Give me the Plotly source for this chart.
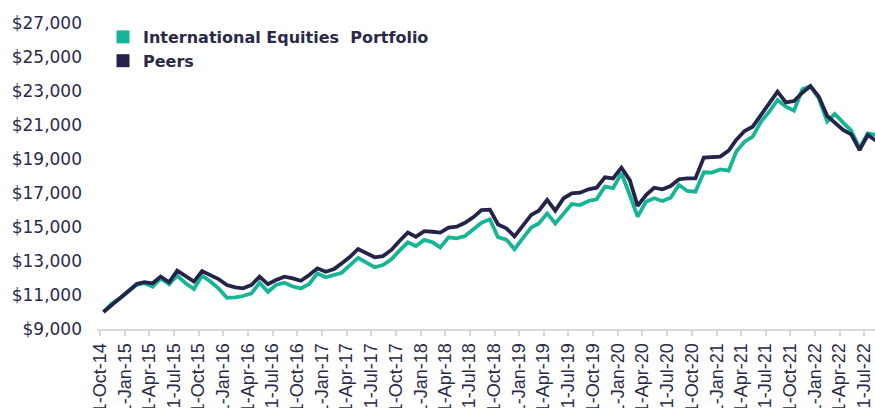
import pandas as pd
import plotly.graph_objects as go

series_names = ["International Equities  Portfolio", "Peers"]

portfolio = [
    10000, 10500, 10800, 11200, 11600, 11700, 11490, 11980, 11630, 12140,
    11690, 11350, 12140, 11790, 11390, 10840, 10860, 10940, 11100, 11720,
    11190, 11590, 11720, 11500, 11390, 11650, 12270, 12040, 12180, 12310,
    12760, 13190, 12900, 12630, 12760, 13100, 13610, 14100, 13880, 14240,
    14100, 13800, 14390, 14330, 14470, 14820, 15250, 15450, 14400, 14260,
    13700, 14350, 14970, 15210, 15800, 15210, 15800, 16350, 16290, 16530,
    16630, 17370, 17280, 18160, 16880, 15610, 16490, 16690, 16530, 16720,
    17470, 17120, 17080, 18220, 18200, 18390, 18310, 19430, 20020, 20310,
    21200, 21780, 22470, 22080, 21840, 23100, 23290, 22570, 21200, 21650,
    21140, 20670, 19630, 20510, 20410,
]

peers = [
    10000, 10420, 10760, 11230, 11650, 11750, 11690, 12080, 11750, 12430,
    12080, 11790, 12410, 12180, 11940, 11590, 11450, 11390, 11590, 12080,
    11630, 11880, 12080, 11980, 11840, 12180, 12570, 12370, 12530, 12860,
    13250, 13710, 13450, 13220, 13290, 13650, 14180, 14670, 14430, 14760,
    14720, 14670, 14960, 15020, 15250, 15570, 16000, 16020, 15150, 14920,
    14450, 15070, 15710, 15960, 16590, 15960, 16690, 16980, 17020, 17220,
    17310, 17920, 17860, 18490, 17760, 16240, 16880, 17310, 17220, 17410,
    17810, 17860, 17860, 19080, 19100, 19140, 19490, 20120, 20650, 20900,
    21590, 22220, 22960, 22330, 22410, 22900, 23290, 22670, 21530, 21140,
    20710, 20450, 19530, 20410, 20080,
]

start_month = "2014-10-01"
dates = pd.date_range(start_month, periods=len(portfolio), freq="MS") + pd.Timedelta(days=13)

teal = "#17b596"
navy = "#24244a"
text_color = "#2a2a48"

fig = go.Figure()
fig.add_trace(go.Scatter(x=dates, y=portfolio, mode="lines",
                         line=dict(color=teal, width=3.8), showlegend=False,
                         name=series_names[0]))
fig.add_trace(go.Scatter(x=dates, y=peers, mode="lines",
                         line=dict(color=navy, width=3.8), showlegend=False,
                         name=series_names[1]))
# legend entries (square swatches)
for nm, col in zip(series_names, [teal, navy]):
    fig.add_trace(go.Scatter(x=[None], y=[None], mode="markers", name=nm,
                             marker=dict(symbol="square", size=13, color=col)))

fig.update_layout(
    width=875, height=408, autosize=False,
    margin=dict(l=97, r=0, t=23, b=79),
    paper_bgcolor="white", plot_bgcolor="white",
    showlegend=True,
    legend=dict(x=0.0077, y=1.0098, xanchor="left", yanchor="top",
                font=dict(family="DejaVu Sans", size=16, color=text_color, weight=700),
                bgcolor="rgba(0,0,0,0)", tracegroupgap=0, itemsizing="trace"),
    xaxis=dict(
        type="date",
        range=["2014-09-20", "2022-08-10"],
        tick0="2014-10-01", dtick="M3", tickformat="%-d-%b-%y",
        tickangle=-90,
        tickfont=dict(family="Liberation Sans", size=18, color=text_color),
        ticks="outside", ticklen=5, tickwidth=1.5, tickcolor="#d9d9d9",
        showline=True, linecolor="#d9d9d9", linewidth=2,
        showgrid=False, zeroline=False, automargin=False,
    ),
    yaxis=dict(
        range=[9000, 27000], tick0=9000, dtick=2000,
        tickprefix="$", tickformat=",d",
        tickfont=dict(family="DejaVu Sans", size=17, color=text_color),
        showgrid=False, zeroline=False, showline=False, ticks="",
        ticklabelstandoff=14, automargin=False,
    ),
)

fig.write_html("out.html",
               config={"displayModeBar": False},
               post_script="document.body.style.margin='0px';")
